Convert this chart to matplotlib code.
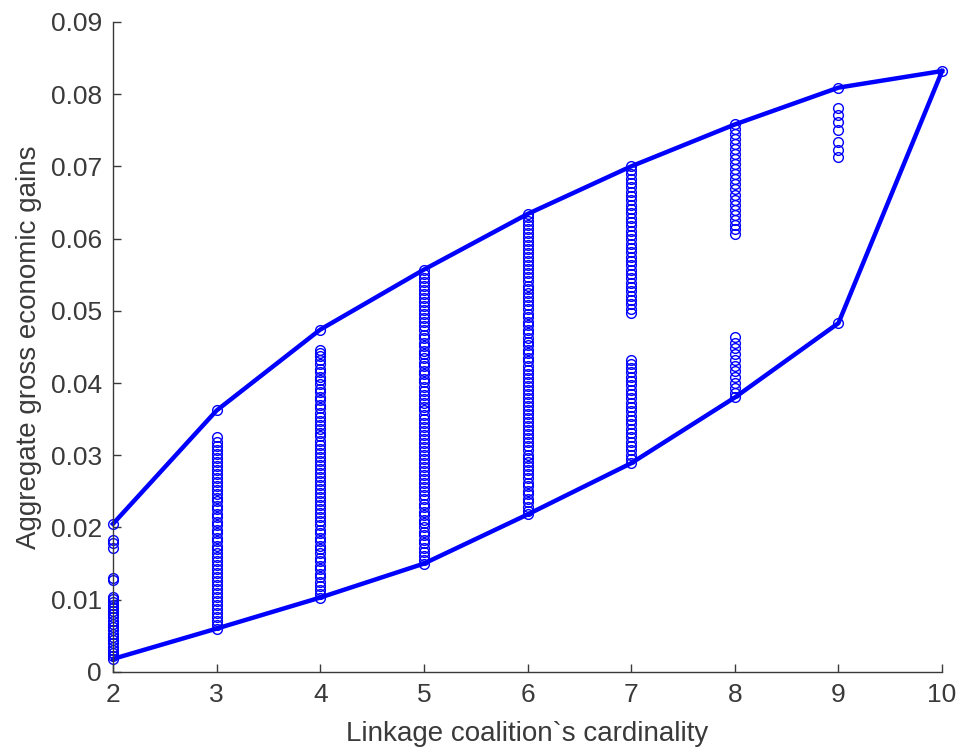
import matplotlib
matplotlib.use("Agg")
import matplotlib.pyplot as plt

# envelope (max / min over coalitions of each size)
card = [2, 3, 4, 5, 6, 7, 8, 9, 10]
upper = [0.0205, 0.0362, 0.0474, 0.0557, 0.0634, 0.0700, 0.0758, 0.0809, 0.0832]
lower = [0.0018, 0.0060, 0.0103, 0.0150, 0.0218, 0.0289, 0.0380, 0.0483, 0.0832]

# gains of the individual coalitions, read by column
g2 = [0.0018, 0.0022, 0.0026, 0.0030, 0.0035, 0.0040, 0.0044, 0.0049, 0.0053, 0.0058,
      0.0062, 0.0067, 0.0071, 0.0076, 0.0080, 0.0085, 0.0089, 0.0093, 0.0097, 0.0101,
      0.0104, 0.0127, 0.0130, 0.0172, 0.0178, 0.0183, 0.0205]
g3 = [0.0060, 0.0065, 0.0071, 0.0076, 0.0082, 0.0087, 0.0093, 0.0098, 0.0104, 0.0109,
      0.0115, 0.0120, 0.0126, 0.0131, 0.0137, 0.0142, 0.0148, 0.0153, 0.0159, 0.0164,
      0.0170, 0.0175, 0.0181, 0.0186, 0.0192, 0.0197, 0.0203, 0.0208, 0.0214, 0.0219,
      0.0225, 0.0230, 0.0236, 0.0241, 0.0247, 0.0252, 0.0258, 0.0263, 0.0269, 0.0274,
      0.0280, 0.0285, 0.0291, 0.0296, 0.0302, 0.0307, 0.0313, 0.0318, 0.0325, 0.0362]
g4 = [0.0103, 0.0108, 0.0114, 0.0119, 0.0125, 0.0131, 0.0136, 0.0142, 0.0147, 0.0153,
      0.0158, 0.0164, 0.0170, 0.0175, 0.0181, 0.0186, 0.0192, 0.0197, 0.0203, 0.0209,
      0.0214, 0.0220, 0.0225, 0.0231, 0.0236, 0.0242, 0.0248, 0.0253, 0.0259, 0.0264,
      0.0270, 0.0275, 0.0281, 0.0287, 0.0292, 0.0298, 0.0303, 0.0309, 0.0314, 0.0320,
      0.0326, 0.0331, 0.0337, 0.0342, 0.0348, 0.0353, 0.0359, 0.0365, 0.0370, 0.0376,
      0.0381, 0.0387, 0.0392, 0.0398, 0.0404, 0.0409, 0.0415, 0.0420, 0.0426, 0.0432,
      0.0437, 0.0441, 0.0446, 0.0474]
g5 = [0.0150, 0.0155, 0.0161, 0.0166, 0.0172, 0.0178, 0.0183, 0.0189, 0.0194, 0.0200,
      0.0206, 0.0211, 0.0217, 0.0222, 0.0228, 0.0233, 0.0239, 0.0245, 0.0250, 0.0256,
      0.0261, 0.0267, 0.0272, 0.0278, 0.0284, 0.0289, 0.0295, 0.0300, 0.0306, 0.0311,
      0.0317, 0.0323, 0.0328, 0.0334, 0.0339, 0.0345, 0.0350, 0.0356, 0.0362, 0.0367,
      0.0373, 0.0378, 0.0384, 0.0389, 0.0395, 0.0401, 0.0406, 0.0412, 0.0417, 0.0423,
      0.0428, 0.0434, 0.0440, 0.0445, 0.0451, 0.0456, 0.0462, 0.0467, 0.0473, 0.0479,
      0.0484, 0.0490, 0.0495, 0.0501, 0.0506, 0.0512, 0.0518, 0.0523, 0.0529, 0.0534,
      0.0540, 0.0545, 0.0551, 0.0556]
g6 = [0.0218, 0.0223, 0.0229, 0.0235, 0.0240, 0.0246, 0.0251, 0.0257, 0.0262, 0.0268,
      0.0274, 0.0279, 0.0285, 0.0290, 0.0296, 0.0301, 0.0307, 0.0313, 0.0318, 0.0324,
      0.0329, 0.0335, 0.0340, 0.0346, 0.0352, 0.0357, 0.0363, 0.0368, 0.0374, 0.0379,
      0.0385, 0.0391, 0.0396, 0.0402, 0.0407, 0.0413, 0.0418, 0.0424, 0.0430, 0.0435,
      0.0441, 0.0446, 0.0452, 0.0457, 0.0463, 0.0469, 0.0474, 0.0480, 0.0485, 0.0491,
      0.0496, 0.0502, 0.0508, 0.0513, 0.0519, 0.0524, 0.0530, 0.0535, 0.0541, 0.0547,
      0.0552, 0.0558, 0.0563, 0.0569, 0.0574, 0.0580, 0.0586, 0.0591, 0.0597, 0.0602,
      0.0608, 0.0613, 0.0619, 0.0625, 0.0630, 0.0634]
g7 = [0.0289, 0.0295, 0.0301, 0.0307, 0.0313, 0.0319, 0.0325, 0.0331, 0.0337, 0.0343,
      0.0349, 0.0355, 0.0361, 0.0367, 0.0373, 0.0379, 0.0385, 0.0391, 0.0397, 0.0403,
      0.0409, 0.0415, 0.0421, 0.0427, 0.0432,
      0.0497, 0.0503, 0.0509, 0.0515, 0.0521, 0.0527, 0.0533, 0.0539, 0.0545, 0.0551,
      0.0557, 0.0563, 0.0569, 0.0575, 0.0581, 0.0587, 0.0593, 0.0599, 0.0605, 0.0611,
      0.0617, 0.0623, 0.0629, 0.0635, 0.0641, 0.0647, 0.0653, 0.0659, 0.0665, 0.0671,
      0.0677, 0.0683, 0.0689, 0.0695, 0.0700]
g8 = [0.0380, 0.0386, 0.0393, 0.0400, 0.0408, 0.0416, 0.0424, 0.0432, 0.0440, 0.0448,
      0.0456, 0.0464,
      0.0607, 0.0613, 0.0619, 0.0626, 0.0633, 0.0640, 0.0647, 0.0654, 0.0661, 0.0668,
      0.0675, 0.0682, 0.0689, 0.0696, 0.0703, 0.0710, 0.0717, 0.0724, 0.0731, 0.0738,
      0.0745, 0.0752, 0.0758]
g9 = [0.0483, 0.0713, 0.0723, 0.0734, 0.0751, 0.0762, 0.0771, 0.0781, 0.0809]
g10 = [0.0832]

gains = {2: g2, 3: g3, 4: g4, 5: g5, 6: g6, 7: g7, 8: g8, 9: g9, 10: g10}

xticks = [2, 3, 4, 5, 6, 7, 8, 9, 10]
yticks = [0, 0.01, 0.02, 0.03, 0.04, 0.05, 0.06, 0.07, 0.08, 0.09]
ylabels = ['0', '0.01', '0.02', '0.03', '0.04', '0.05', '0.06', '0.07', '0.08', '0.09']

plt.rcParams['font.family'] = ['Liberation Sans', 'DejaVu Sans']
txt = '#3a3a3a'

fig = plt.figure(figsize=(9.63, 7.55), dpi=100)
ax = fig.add_axes([0.1173, 0.110, 0.861, 0.861])

for k, vals in gains.items():
    ax.plot([k] * len(vals), vals, 'o', mfc='none', mec='blue', ms=7, mew=1.0,
            clip_on=False)

ax.plot(card, upper, '-', color='blue', lw=3.2, clip_on=False)
ax.plot(card, lower, '-', color='blue', lw=3.2, clip_on=False)

ax.set_xlim(2, 10)
ax.set_ylim(0, 0.09)
ax.set_xticks(xticks)
ax.set_yticks(yticks)
ax.set_yticklabels(ylabels)

for s in ['top', 'right']:
    ax.spines[s].set_visible(False)
for s in ['left', 'bottom']:
    ax.spines[s].set_color(txt)
    ax.spines[s].set_linewidth(1.0)
ax.tick_params(direction='in', length=6, width=1.0, color=txt,
               labelsize=19, labelcolor=txt, pad=8)

ax.set_xlabel('Linkage coalition`s cardinality', fontsize=20, color=txt, labelpad=10)
ax.set_ylabel('Aggregate gross economic gains', fontsize=20, color=txt, labelpad=6)

fig.savefig('out.png', dpi=100)
